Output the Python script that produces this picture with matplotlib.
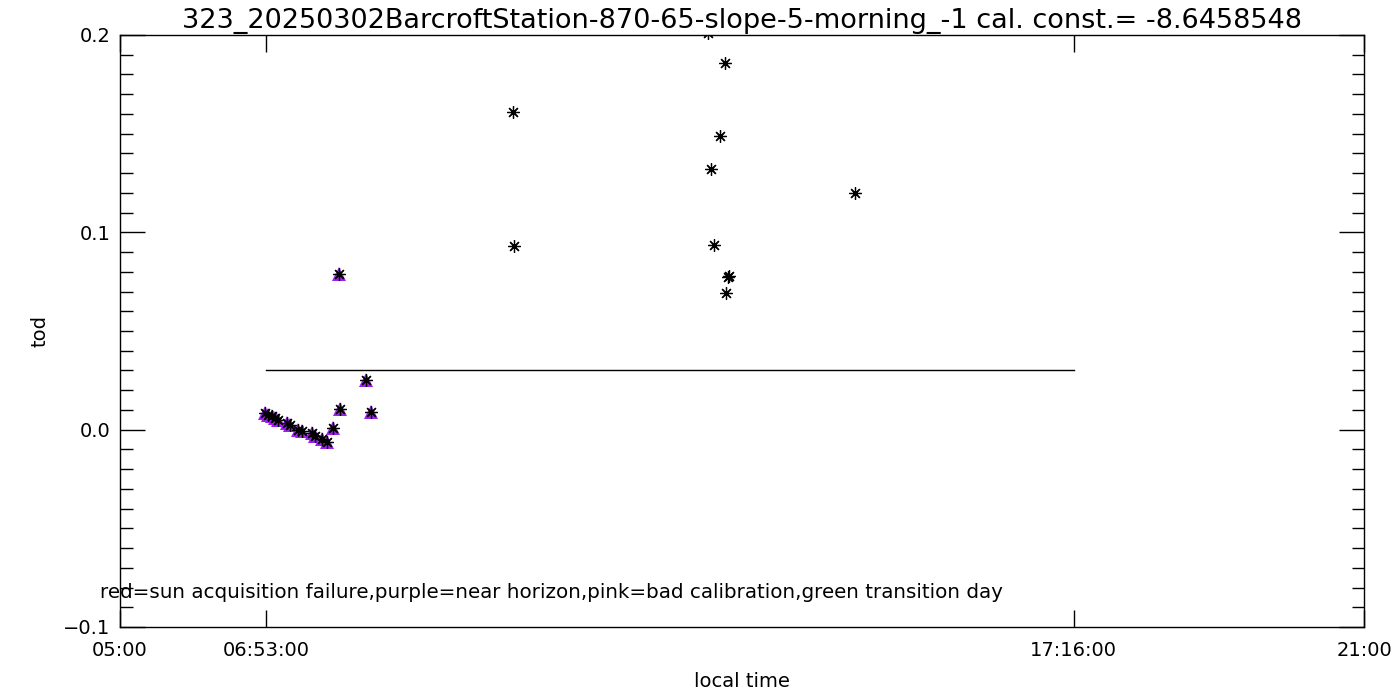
import matplotlib
matplotlib.use("Agg")
import matplotlib.pyplot as plt
from matplotlib.ticker import MultipleLocator
import numpy as np

# flagged points (purple = near horizon), hours of local time
purple_hours = [6.865, 6.907, 6.951, 6.994, 7.036, 7.144, 7.187, 7.293, 7.337,
                7.466, 7.508, 7.594, 7.659, 7.743, 7.833, 7.820, 8.168, 8.232]
purple_tod = [0.0085, 0.0076, 0.0068, 0.0059, 0.0051, 0.0034, 0.0025, 0.0000, -0.0009,
              -0.0017, -0.0030, -0.0047, -0.0065, 0.0008, 0.0106, 0.0790, 0.0253, 0.0091]

# remaining points (black only)
other_hours = [10.055, 10.068, 12.563, 12.781, 12.717, 12.601, 12.640,
               12.820, 12.833, 12.794, 14.453]
other_tod = [0.1612, 0.0933, 0.2010, 0.1860, 0.1490, 0.1323, 0.0938,
             0.0775, 0.0780, 0.0694, 0.1200]

sunrise = 6 + 53 / 60
sunset = 17 + 16 / 60
threshold = 0.03

title = "323_20250302BarcroftStation-870-65-slope-5-morning_-1 cal. const.= -8.6458548"
note = "red=sun acquisition failure,purple=near horizon,pink=bad calibration,green transition day"

xticks = [5, sunrise, sunset, 21]
xlabels = ["05:00", "06:53:00", "17:16:00", "21:00"]
yticks = [-0.1, 0.0, 0.1, 0.2]
ylabels = ["\u22120.1", "0.0", "0.1", "0.2"]

plt.rcParams['font.family'] = ['DejaVu Sans']

fig = plt.figure(figsize=(14, 7), dpi=100)
ax = fig.add_axes([120 / 1400, 73 / 700, 1244 / 1400, 592 / 700])

star = (8, 2, 0)
ax.plot(purple_hours, purple_tod, linestyle='none', marker='^', color='#a020f0',
        markersize=10, markeredgewidth=0)
all_h = purple_hours + other_hours
all_t = purple_tod + other_tod
ax.plot(all_h, all_t, linestyle='none', marker=star, color='black',
        markersize=9, markeredgewidth=0.9)

ax.plot([sunrise, sunset], [threshold, threshold], color='black', linewidth=1)

ax.set_xlim(5, 21)
ax.set_ylim(-0.1, 0.2)
ax.set_xticks(xticks)
ax.set_xticklabels(xlabels, fontsize=14)
ax.set_yticks(yticks)
ax.set_yticklabels(ylabels, fontsize=14)
ax.yaxis.set_minor_locator(MultipleLocator(0.01))
ax.tick_params(axis='both', which='both', direction='in', top=True, right=True, width=1)
ax.tick_params(axis='y', which='major', length=18, pad=7)
ax.tick_params(axis='y', which='minor', length=9)
ax.tick_params(axis='x', which='major', length=12, pad=10)
for s in ax.spines.values():
    s.set_linewidth(1)

ax.set_title(title, fontsize=19.5, pad=5)
ax.set_xlabel("local time", fontsize=14)
ax.set_ylabel("tod", fontsize=14)
ax.xaxis.set_label_coords(0.5, -45 / 592)
ax.yaxis.set_label_coords(-70 / 1244, 0.5)

fig.text(100 / 1400, 1 - 593 / 700, note, fontsize=14.3, va='center', ha='left')

fig.savefig("out.png", dpi=100)
